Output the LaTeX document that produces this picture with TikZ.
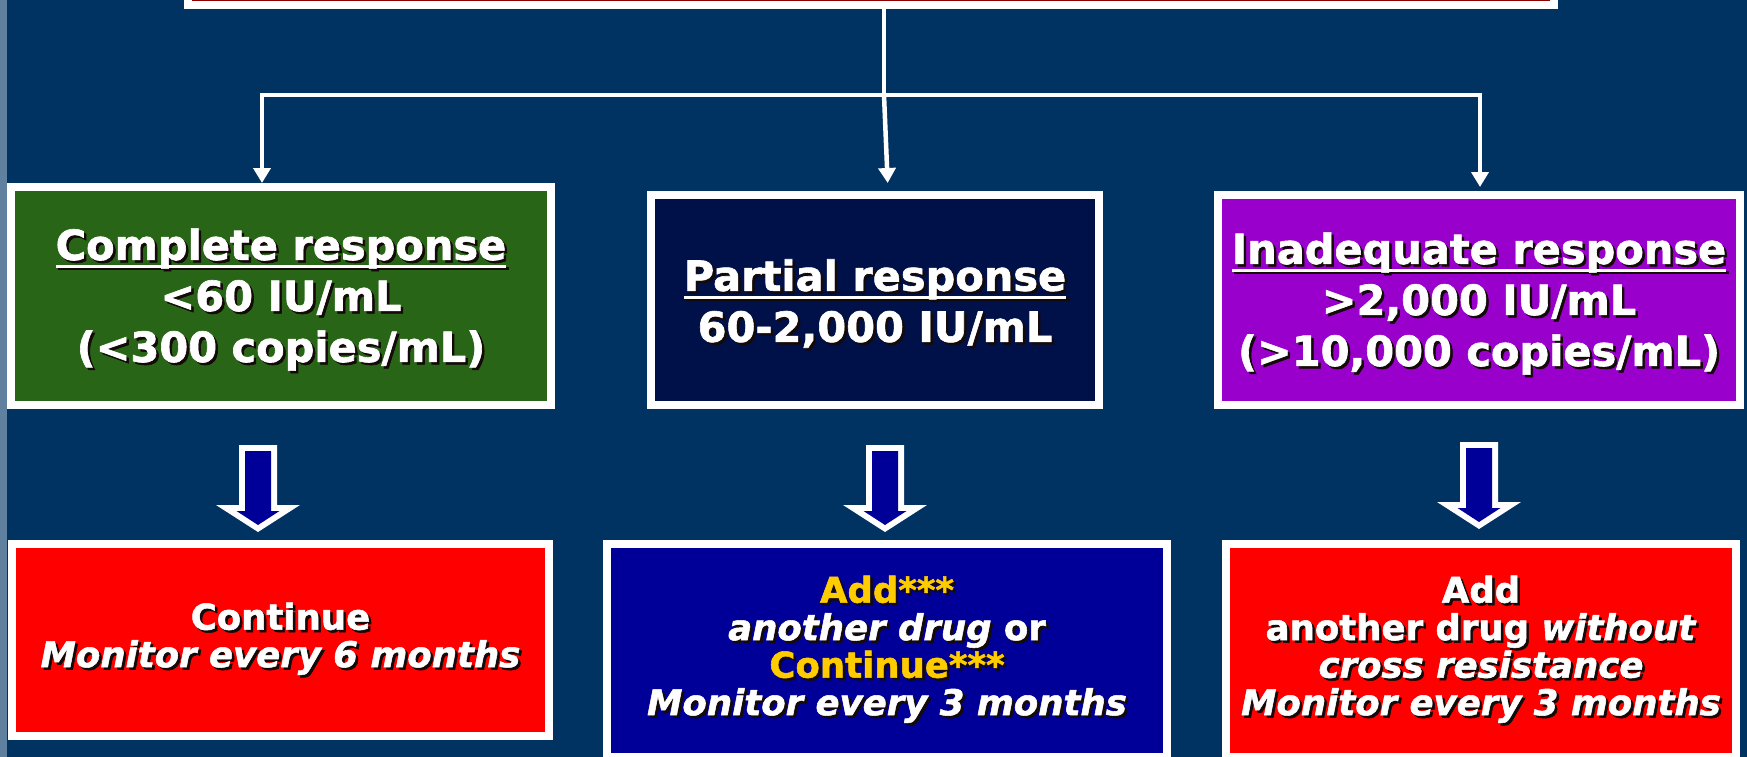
\documentclass[tikz,border=0pt]{standalone}
\usepackage{fontspec}
\setmainfont{DejaVu Sans}[BoldFont={DejaVu Sans Bold},ItalicFont={DejaVu Sans Oblique},BoldItalicFont={DejaVu Sans Bold Oblique},BoldFeatures={FakeBold=1.5},BoldItalicFeatures={FakeBold=1.5}]
\usetikzlibrary{arrows.meta}

\definecolor{slide}{RGB}{0,50,98}
\definecolor{slideedge}{RGB}{96,128,160}
\definecolor{titlered}{RGB}{140,0,0}
\definecolor{cgreen}{RGB}{41,101,23}
\definecolor{cnavy}{RGB}{0,17,74}
\definecolor{cpurple}{RGB}{153,0,204}
\definecolor{cred}{RGB}{255,0,0}
\definecolor{cblue}{RGB}{0,0,153}
\definecolor{addyellow}{RGB}{255,204,0}
\definecolor{txtshadow}{RGB}{20,10,10}

% text with a drop shadow
\newcommand\sh[2][white]{\leavevmode\rlap{\kern2.5pt\raisebox{-2.5pt}{\color{txtshadow}#2}}\textcolor{#1}{#2}}
% underline close under the text
\newcommand\undl[1]{\setbox0\hbox{#1}\rlap{\rule[-0.19em]{\wd0}{0.07em}}\box0}
% extra room over the first line
\newcommand\headroom{\rule{0pt}{41pt}}

\tikzset{
  topbox/.style={draw=white,line width=8pt,fill=titlered},
  resp/.style={draw=white,line width=8pt,inner sep=0pt,align=center,
    font=\bfseries\fontsize{41.5}{51}\selectfont},
  act/.style={draw=white,line width=8pt,inner sep=0pt,align=center,
    font=\bfseries\fontsize{35.5}{37.5}\selectfont},
  link/.style={white,line width=4.5pt},
  arrowlink/.style={link,-{Triangle[length=15pt,width=17pt]}}
}

\begin{document}
\begin{tikzpicture}[x=1pt,y=-1pt]
\useasboundingbox (0,0) rectangle (1747,757);
\clip (0,0) rectangle (1747,757);
\fill[slide] (0,0) rectangle (1747,757);
\fill[slideedge] (0,0) rectangle (7,757);
% title box, cut off at the top
\node[topbox,minimum width=1366pt,minimum height=65pt] (top) at (870.5,-27.5) {};
% responses
\node[resp,fill=cgreen,minimum width=540pt,minimum height=218pt] (complete) at (281,296)
  {\headroom\sh{\undl{Complete response}}\\ \sh{<60 IU/mL}\\ \sh{(<300 copies/mL)}};
\node[resp,fill=cnavy,minimum width=448pt,minimum height=210pt] (partial) at (875,300)
  {\headroom\sh{\undl{Partial response}}\hspace{13pt}\\ \sh{60-2,000 IU/mL}};
\node[resp,fill=cpurple,minimum width=522pt,minimum height=210pt] (inadequate) at (1479,300)
  {\headroom\sh{\undl{Inadequate response}}\\ \sh{>2,000 IU/mL}\\ \sh{(>10,000 copies/mL)}};
% what to do
\node[act,fill=cred,minimum width=537pt,minimum height=192pt] (cont) at (280.5,640)
  {\sh{Continue}\\ \sh{\textit{Monitor every 6 months}}};
\node[act,fill=cblue,minimum width=560pt,minimum height=213pt] (addcont) at (887,650.5)
  {\sh[addyellow]{Add***}\\ \sh{\textit{another drug} or}\\ \sh[addyellow]{Continue***}\\ \sh{\textit{Monitor every 3 months}}};
\node[act,fill=cred,minimum width=510pt,minimum height=213pt] (adddrug) at (1481,650.5)
  {\sh{Add}\\ \sh{another drug \textit{without}}\\ \sh{\textit{cross resistance}}\\ \sh{\textit{Monitor every 3 months}}};
% tree of connectors
\coordinate (split) at (884,95);
\coordinate (splitl) at (262,95);
\coordinate (splitr) at (1480,95);
\draw[link] (split |- top.south) -- (split);
\draw[link,line cap=rect] (splitl) -- (splitr);
\draw[arrowlink] (splitl) -- (splitl |- complete.north);
\draw[arrowlink,shorten >=8pt] (split) -- ([xshift=4pt]split |- partial.north);
\draw[arrowlink,shorten >=4pt] (splitr) -- (splitr |- inadequate.north);
% block arrows
\foreach \ax/\ay in {258/445,885/445,1479/442}{
  \fill[white] (\ax-19,\ay) -- (\ax+19,\ay) -- (\ax+19,\ay+60) -- (\ax+42,\ay+60)
    -- (\ax,\ay+87) -- (\ax-42,\ay+60) -- (\ax-19,\ay+60) -- cycle;
  \fill[cblue] (\ax-13,\ay+6) -- (\ax+13,\ay+6) -- (\ax+13,\ay+66) -- (\ax+21.5,\ay+66)
    -- (\ax,\ay+80) -- (\ax-21.5,\ay+66) -- (\ax-13,\ay+66) -- cycle;
}
\end{tikzpicture}
\end{document}
